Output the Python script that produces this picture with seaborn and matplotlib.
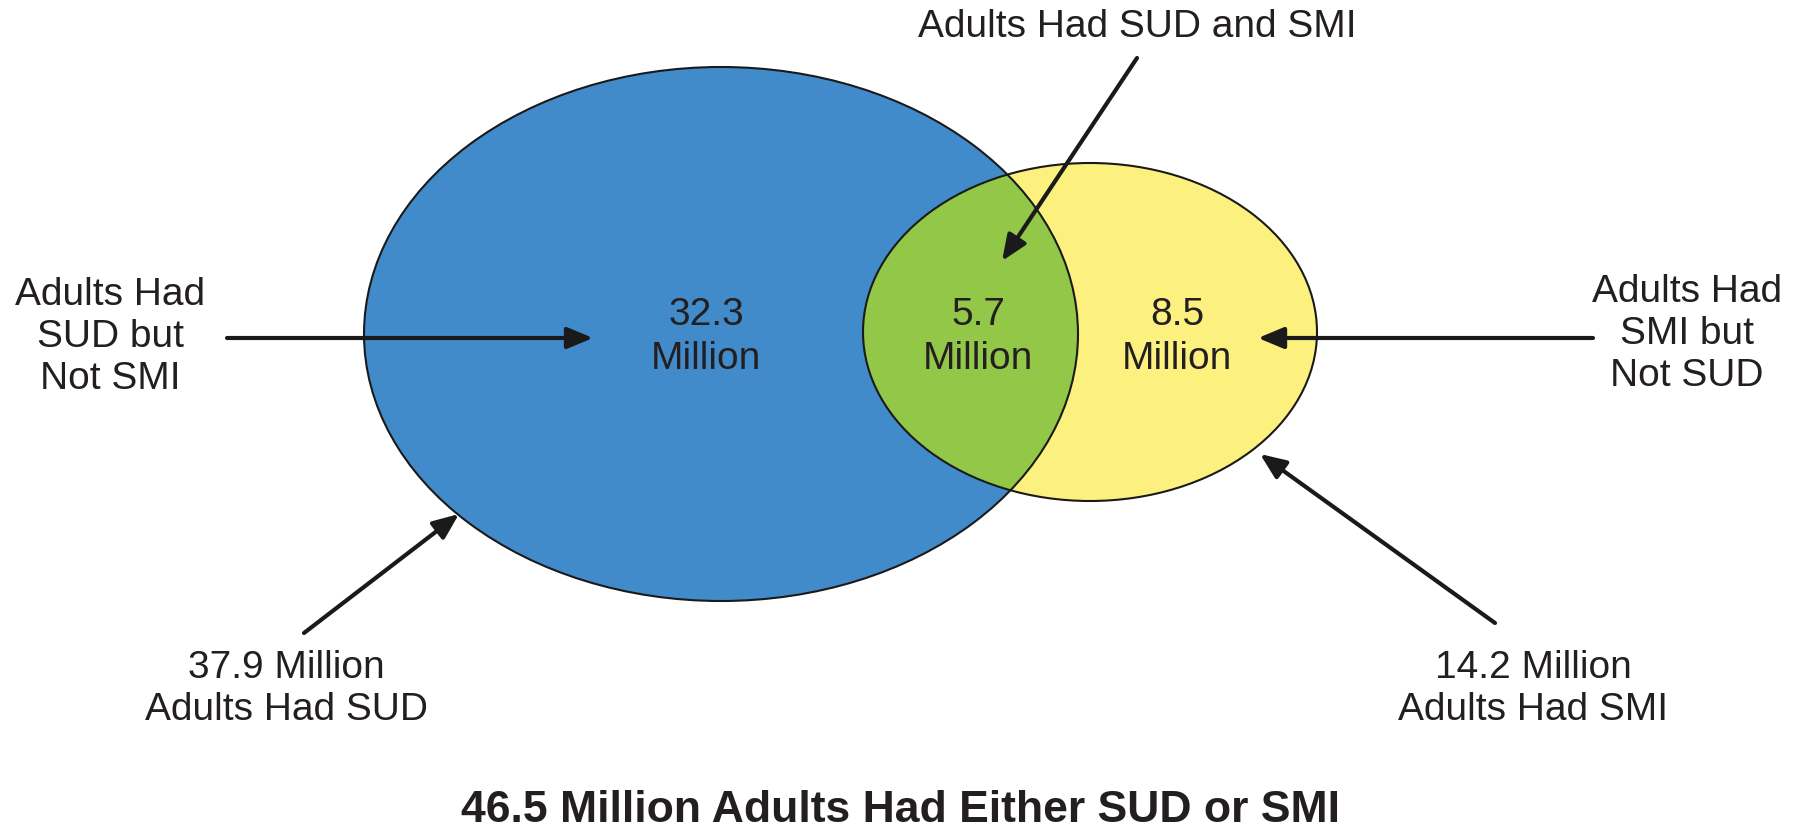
import matplotlib
matplotlib.use("Agg")
import matplotlib.pyplot as plt
from matplotlib import font_manager
from matplotlib.patches import Ellipse, FancyArrowPatch
import seaborn as sns

# Venn counts (millions of adults)
region_names = ["SUD only", "SUD and SMI", "SMI only"]
region_values = [32.3, 5.7, 8.5]
set_names = ["SUD", "SMI"]
set_totals = [37.9, 14.2]
union_total = 46.5

sns.set_theme(style="white")
plt.rcParams["font.family"] = ["Liberation Sans", "DejaVu Sans"]

W, H = 1810, 831
fig = plt.figure(figsize=(W / 100, H / 100), dpi=100)
ax = fig.add_axes([0, 0, 1, 1])
ax.set_xlim(0, W)
ax.set_ylim(H, 0)
ax.axis("off")

ink = "#231f20"
blue = "#428bca"
yellow = "#fcf07e"
green = "#92c747"

# ellipse geometry (pixel space)
sud_c, sud_w, sud_h = (721, 334), 714, 534
smi_c, smi_w, smi_h = (1090, 332), 454, 338

sud = Ellipse(sud_c, sud_w, sud_h, facecolor=blue, edgecolor="none", zorder=1)
smi = Ellipse(smi_c, smi_w, smi_h, facecolor=yellow, edgecolor="none", zorder=2)
ax.add_patch(sud)
ax.add_patch(smi)

# overlap: SMI ellipse in green, clipped to the SUD ellipse
overlap = Ellipse(smi_c, smi_w, smi_h, facecolor=green, edgecolor="none", zorder=3)
ax.add_patch(overlap)
overlap.set_clip_path(sud)

for c, w, h in [(sud_c, sud_w, sud_h), (smi_c, smi_w, smi_h)]:
    ax.add_patch(Ellipse(c, w, h, facecolor="none", edgecolor="#1a1a1a",
                         lw=1.5, zorder=4))

fs = 28
txt = dict(color=ink, fontsize=fs, ha="center", va="center", linespacing=1.2)

# region values
region_xy = [(706, 337), (978, 337), (1177, 337)]
for (x, y), v in zip(region_xy, region_values):
    ax.text(x, y, f"{v:.1f}\nMillion", zorder=6,
            **{**txt, "linespacing": 1.28})

# callout labels
ax.text(110, 337, "Adults Had\nSUD but\nNot SMI", **txt)
ax.text(1687, 334, "Adults Had\nSMI but\nNot SUD", **txt)
ax.text(1137, 27, "Adults Had SUD and SMI", **txt)
ax.text(286, 689, f"{set_totals[0]:.1f} Million\nAdults Had {set_names[0]}", **txt)
ax.text(1533, 689, f"{set_totals[1]:.1f} Million\nAdults Had {set_names[1]}", **txt)

# arrows
arrows = [
    ((227, 338), (593, 338)),
    ((1593, 338), (1258, 338)),
    ((1137, 58), (1002, 261)),
    ((304, 633), (459, 514)),
    ((1495, 623), (1260, 454)),
]
for start, end in arrows:
    ax.add_patch(FancyArrowPatch(start, end, arrowstyle="-|>,head_length=0.6,head_width=0.25",
                                 mutation_scale=26, lw=3, color="#1a1a1a",
                                 shrinkA=0, shrinkB=0, zorder=7))

# footer
names = {f.name for f in font_manager.fontManager.ttflist}
if "Liberation Sans Narrow" in names:
    foot = dict(family=["Liberation Sans Narrow", "DejaVu Sans"], fontsize=38)
else:
    foot = dict(family=["Liberation Sans", "DejaVu Sans"], fontsize=32)
ax.text(900, 811, f"{union_total:.1f} Million Adults Had Either SUD or SMI",
        color=ink, ha="center", va="center", fontweight="bold", **foot)

fig.savefig("out.png", dpi=100, facecolor="white")
